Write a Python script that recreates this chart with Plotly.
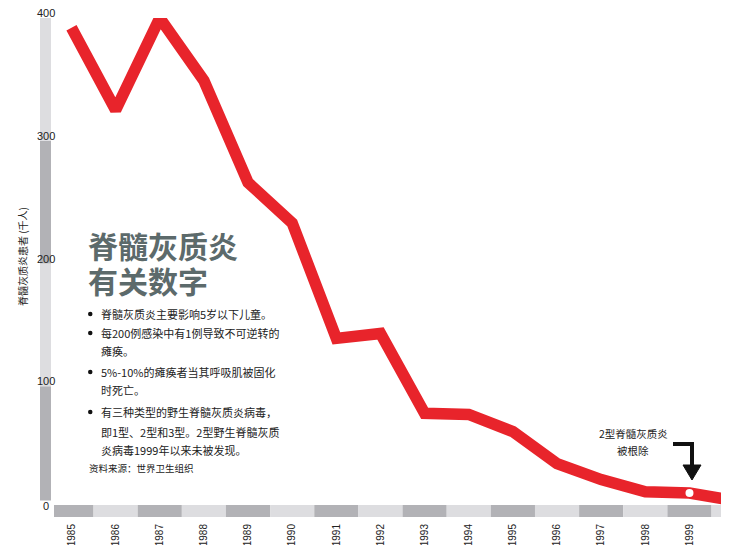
import plotly.graph_objects as go

# ---------------- data ----------------
years = [1985, 1986, 1987, 1988, 1989, 1990, 1991, 1992, 1993, 1994,
         1995, 1996, 1997, 1998, 1999, 2000]
cases = [392, 325, 400, 349, 266, 233, 139, 143, 78, 77,
         63, 37, 24, 14, 13, 7]
tick_years = list(range(1985, 2000))
tick_labels = [str(y) for y in tick_years]
y_ticks = [0, 100, 200, 300, 400]
y_tick_labels = ["0", "100", "200", "300", "400"]
eradicated_year = 1999
eradicated_value = 13

title_lines = ["脊髓灰质炎", "有关数字"]
bullet_lines = [
    ("•", "脊髓灰质炎主要影响5岁以下儿童。"),
    ("•", "每200例感染中有1例导致不可逆转的"),
    ("", "瘫痪。"),
    ("•", "5%-10%的瘫痪者当其呼吸肌被固化"),
    ("", "时死亡。"),
    ("•", "有三种类型的野生脊髓灰质炎病毒，"),
    ("", "即1型、2型和3型。2型野生脊髓灰质"),
    ("", "炎病毒1999年以来未被发现。"),
]
source_text = "资料来源：世界卫生组织"
y_title = "脊髓灰质炎患者 (千人)"
note_lines = ["2型脊髓灰质炎", "被根除"]

# ---------------- geometry helpers ----------------
W, H = 730, 545
ML, MR, MT, MB = 54, 9, 18, 36
PW = W - ML - MR
PH = H - MT - MB
X0 = 1984.604
X1 = 1999.714


def px(p):  # pixel x -> paper
    return (p - ML) / PW


def py(p):  # pixel y -> paper
    return (H - MB - p) / PH


DARK = "#b2b2b6"
LIGHT = "#dddde0"
RED = "#e8242b"
FONT = "Noto Sans CJK SC, sans-serif"
NARROW = "Liberation Sans Narrow, Arial Narrow, Liberation Sans, sans-serif"

fig = go.Figure()

fig.add_trace(go.Scatter(
    x=years, y=cases, mode="lines",
    line=dict(color=RED, width=11.5),
    hoverinfo="skip", showlegend=False,
))
fig.add_trace(go.Scatter(
    x=[eradicated_year], y=[eradicated_value], mode="markers",
    marker=dict(color="white", size=8, line=dict(width=0)),
    hoverinfo="skip", showlegend=False,
))

shapes = []
# x-axis band
for yr in range(1984, 2001):
    shapes.append(dict(
        type="rect", xref="x", yref="paper",
        x0=yr - 0.5, x1=yr + 0.5, y0=py(517), y1=py(505),
        fillcolor=DARK if (yr - 1985) % 2 == 0 else LIGHT,
        line=dict(width=0), layer="below",
    ))
# y-axis band
ybands = [(7, 100, DARK), (100, 200, LIGHT), (200, 300, DARK), (300, 400, LIGHT)]
for a, b, c in ybands:
    shapes.append(dict(
        type="rect", xref="paper", yref="y",
        x0=px(40), x1=px(51), y0=a, y1=b,
        fillcolor=c, line=dict(width=0), layer="below",
    ))
# elbow arrow
shapes.append(dict(
    type="path", xref="paper", yref="paper",
    path=f"M {px(673)} {py(444)} L {px(692)} {py(444)} L {px(692)} {py(467)}",
    line=dict(color="#111", width=4), fillcolor="rgba(0,0,0,0)",
))
shapes.append(dict(
    type="path", xref="paper", yref="paper",
    path=f"M {px(683)} {py(465)} L {px(701)} {py(465)} L {px(692)} {py(480)} Z",
    line=dict(color="#111", width=1), fillcolor="#111",
))
# bullet dots
bullet_y = [314, 333, 351, 372, 390, 412, 432, 450]
for (b, t), yy in zip(bullet_lines, bullet_y):
    if b:
        shapes.append(dict(
            type="circle", xref="paper", yref="paper",
            x0=px(88), x1=px(92.5), y0=py(yy + 2.25), y1=py(yy - 2.25),
            fillcolor="#111", line=dict(width=0),
        ))

ann = []
# y tick labels
for v, t in zip(y_ticks, y_tick_labels):
    pix = H - MB - v * PH / 400
    ann.append(dict(
        xref="paper", yref="paper", x=px(46), y=py(pix - 5 if v else pix - 3),
        text=t, showarrow=False, xanchor="center", yanchor="middle",
        font=dict(family=NARROW, size=11, color="#222"),
    ))
# y title
ann.append(dict(
    xref="paper", yref="paper", x=px(22), y=py(257), text=y_title,
    textangle=-90, showarrow=False, xanchor="center", yanchor="middle",
    font=dict(family=FONT, size=10, color="#222"),
))
# big title
for i, t in enumerate(title_lines):
    ann.append(dict(
        xref="paper", yref="paper", x=px(86), y=py(245 + 35 * i),
        text=f"<b>{t}</b>",
        showarrow=False, xanchor="left", yanchor="middle", align="left",
        font=dict(family=FONT, size=30, color="#5c6a6b"),
    ))
# bullets text
for (b, t), yy in zip(bullet_lines, bullet_y):
    ann.append(dict(
        xref="paper", yref="paper", x=px(99), y=py(yy), text=t,
        showarrow=False, xanchor="left", yanchor="middle",
        font=dict(family=FONT, size=11, color="#222"),
    ))
ann.append(dict(
    xref="paper", yref="paper", x=px(87), y=py(468), text=source_text,
    showarrow=False, xanchor="left", yanchor="middle",
    font=dict(family=FONT, size=9.5, color="#222"),
))
# note
for i, t in enumerate(note_lines):
    ann.append(dict(
        xref="paper", yref="paper", x=px(633), y=py(433 + 17 * i), text=t,
        showarrow=False, xanchor="center", yanchor="middle",
        font=dict(family=FONT, size=10.5, color="#222"),
    ))

fig.update_layout(
    width=W, height=H,
    margin=dict(l=ML, r=MR, t=MT, b=MB, pad=0, autoexpand=False),
    paper_bgcolor="white", plot_bgcolor="white",
    showlegend=False,
    shapes=shapes, annotations=ann,
    xaxis=dict(
        range=[X0, X1], showgrid=False, zeroline=False, showline=False,
        tickmode="array", tickvals=tick_years, ticktext=tick_labels,
        tickangle=-90, ticks="", ticklabelstandoff=12, automargin=False,
        tickfont=dict(family=NARROW, size=10, color="#222"),
        fixedrange=True,
    ),
    yaxis=dict(range=[0, 400], visible=False, fixedrange=True, automargin=False),
)

fig.write_html(
    "out.html",
    config={"displayModeBar": False},
    post_script="document.body.style.margin='0';document.body.style.overflow='hidden';",
)
